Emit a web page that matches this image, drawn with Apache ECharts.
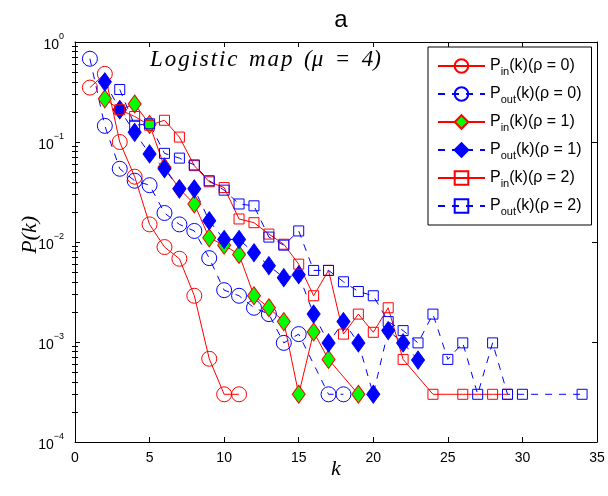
<!DOCTYPE html>
<html>
<head>
<meta charset="utf-8">
<script src="https://cdn.jsdelivr.net/npm/echarts@6.0.0/dist/echarts.min.js"></script>
<style>html,body{margin:0;padding:0;background:#fff}#c{width:608px;height:496px}</style>
</head>
<body>
<div id="c"></div>
<script>
// ---- data ----
const kPin0 = [1, 2, 3, 4, 5, 6, 7, 8, 9, 10, 11];
const pPin0 = [0.35, 0.48, 0.10, 0.045, 0.015, 0.0089, 0.0068, 0.0029, 0.00068, 0.0003, 0.0003];

const kPout0 = [1, 2, 3, 4, 5, 6, 7, 8, 9, 10, 11, 12, 13, 14, 15, 17, 18];
const pPout0 = [0.68, 0.145, 0.054, 0.041, 0.037, 0.0195, 0.015, 0.0129, 0.0069, 0.0033, 0.0029, 0.0022, 0.0019, 0.00098, 0.0012, 0.0003, 0.0003];

const kPin1 = [2, 3, 4, 5, 6, 7, 8, 9, 10, 11, 12, 13, 14, 15, 16, 17, 19];
const pPin1 = [0.27, 0.21, 0.24, 0.15, 0.056, 0.034, 0.024, 0.011, 0.0093, 0.0075, 0.0029, 0.0022, 0.0016, 0.0003, 0.00126, 0.00067, 0.0003];

const kPout1 = [2, 3, 4, 5, 6, 7, 8, 9, 10, 11, 12, 13, 14, 15, 16, 17, 18, 19, 20, 21, 22, 23];
const pPout1 = [0.4, 0.21, 0.125, 0.076, 0.054, 0.034, 0.034, 0.0163, 0.0106, 0.0106, 0.0078, 0.0058, 0.0044, 0.0047, 0.0019, 0.00098, 0.0016, 0.00098, 0.0003, 0.0013, 0.00098, 0.00066];

const kPin2 = [3, 4, 5, 6, 7, 8, 9, 10, 11, 12, 13, 14, 15, 16, 17, 18, 19, 20, 21, 22, 24, 26, 28, 29];
const pPin2 = [0.21, 0.18, 0.147, 0.165, 0.112, 0.058, 0.040, 0.035, 0.017, 0.0156, 0.012, 0.0095, 0.006, 0.0029, 0.0052, 0.0012, 0.0019, 0.00125, 0.0022, 0.00067, 0.0003, 0.0003, 0.0003, 0.0003];

const kPout2 = [3, 4, 5, 6, 7, 8, 9, 10, 11, 12, 13, 14, 15, 16, 17, 18, 19, 20, 21, 22, 23, 24, 25, 26, 27, 28, 29, 30, 34];
const pPout2 = [0.335, 0.147, 0.152, 0.077, 0.069, 0.059, 0.041, 0.033, 0.024, 0.023, 0.0112, 0.0093, 0.0129, 0.0052, 0.0052, 0.004, 0.0032, 0.0029, 0.0016, 0.0013, 0.00098, 0.0019, 0.00067, 0.00098, 0.0003, 0.00098, 0.0003, 0.0003, 0.0003];

const yExponents = [-4, -3, -2, -1, 0];
const legendLabels = {
  Pin0: ['in', '0'], Pout0: ['out', '0'],
  Pin1: ['in', '1'], Pout1: ['out', '1'],
  Pin2: ['in', '2'], Pout2: ['out', '2']
};

// ---- chart ----
const RED = '#ff0000', BLUE = '#0000ff', GREEN = '#00ff00';
const SANS = '"Liberation Sans", Arial, sans-serif';
const SERIF = '"Liberation Serif", "DejaVu Serif", serif';
const zip = (ks, ps) => ks.map((k, i) => [k, ps[i]]);
const HS = '\u200A';

const minorVals = [];
for (let d = -4; d < 0; d++) for (let m = 2; m <= 9; m++) minorVals.push(+(m * Math.pow(10, d)).toPrecision(3));

const chart = echarts.init(document.getElementById('c'), null, {renderer: 'canvas'});

function mkSeries(name, ks, ps, symbol, size, color, fill, dashed) {
  return {
    name, type: 'line', data: zip(ks, ps), xAxisIndex: 0, yAxisIndex: 0,
    symbol, symbolSize: size, showSymbol: true, animation: false,
    lineStyle: {color, width: 1, type: dashed ? [7, 7] : 'solid'},
    itemStyle: {color: fill, borderColor: color, borderWidth: 1},
    emphasis: {disabled: true}
  };
}

const baseY = {type: 'log', logBase: 10, min: 1e-4, max: 1, gridIndex: 0, splitLine: {show: false}};
const spaced = s => s.split('').join(HS);

chart.setOption({
  backgroundColor: '#fff',
  animation: false,
  title: {
    text: 'a', left: 336, top: 3, textAlign: 'center',
    textStyle: {fontFamily: SANS, fontSize: 24, fontWeight: 'normal', color: '#000'}
  },
  grid: {left: 75, right: 11, top: 42, bottom: 54, containLabel: false},
  xAxis: [
    {type: 'value', min: 0, max: 35, interval: 5, position: 'bottom',
     axisLine: {onZero: false, lineStyle: {color: '#000', width: 1}},
     axisTick: {inside: true, length: 5, lineStyle: {color: '#000'}},
     axisLabel: {color: '#000', fontFamily: SANS, fontSize: 14, margin: 9},
     splitLine: {show: false}},
    {type: 'value', min: 0, max: 35, interval: 5, position: 'top',
     axisLine: {onZero: false, lineStyle: {color: '#000', width: 1}},
     axisTick: {inside: true, length: 5, lineStyle: {color: '#000'}},
     axisLabel: {show: false}, splitLine: {show: false}}
  ],
  yAxis: [
    Object.assign({}, baseY, {position: 'left',
     axisLine: {onZero: false, lineStyle: {color: '#000', width: 1}},
     axisTick: {inside: true, length: 5, lineStyle: {color: '#000'}},
     axisLabel: {color: '#000', fontFamily: SANS, margin: 11,
       formatter: v => '{b|10}{s|' + Math.round(Math.log10(v)).toString().replace('-', '\u2212') + '}',
       rich: {b: {fontSize: 14, fontFamily: SANS, color: '#000', lineHeight: 20, verticalAlign: 'bottom'},
              s: {fontSize: 9, fontFamily: SANS, color: '#000', lineHeight: 20, verticalAlign: 'top'}}}}),
    Object.assign({}, baseY, {position: 'left', axisLine: {show: false},
     axisTick: {inside: true, length: 3, customValues: minorVals, lineStyle: {color: '#000'}},
     axisLabel: {show: false}}),
    Object.assign({}, baseY, {position: 'right',
     axisLine: {onZero: false, lineStyle: {color: '#000', width: 1}},
     axisTick: {inside: true, length: 5, lineStyle: {color: '#000'}},
     axisLabel: {show: false}}),
    Object.assign({}, baseY, {position: 'right', axisLine: {show: false},
     axisTick: {inside: true, length: 3, customValues: minorVals, lineStyle: {color: '#000'}},
     axisLabel: {show: false}})
  ],
  legend: {
    orient: 'vertical', left: 428, top: 47,
    backgroundColor: '#fff', borderColor: '#000', borderWidth: 1,
    padding: [11, 10, 8, 9], itemGap: 9, itemWidth: 47, itemHeight: 17,
    selectedMode: false,
    textStyle: {color: '#000', fontFamily: SANS, fontSize: 16,
      rich: {t: {fontSize: 16, fontFamily: SANS, color: '#000', lineHeight: 22, verticalAlign: 'middle'},
             u: {fontSize: 11, fontFamily: SANS, color: '#000', lineHeight: 10, verticalAlign: 'bottom'}}},
    formatter: name => '{t|P}{u|' + legendLabels[name][0] + '}{t|(k)(\u03c1 = ' + legendLabels[name][1] + ')}',
    data: ['Pin0', 'Pout0', 'Pin1', 'Pout1', 'Pin2', 'Pout2']
  },
  graphic: [
    {type: 'text', left: 150, top: 48, silent: true,
     style: {text: spaced('Logistic') + '  ' + spaced('map') + '  (\u03bc\u2002=\u20024)', font: 'italic 23px ' + SERIF, fill: '#000'}},
    {type: 'text', left: 19, top: 216, rotation: Math.PI / 2, silent: true,
     style: {text: 'P(k)', font: 'italic 22px ' + SERIF, fill: '#000'}},
    {type: 'text', left: 331, top: 458, silent: true,
     style: {text: 'k', font: 'italic 22px ' + SERIF, fill: '#000'}}
  ],
  series: [
    mkSeries('Pin0', kPin0, pPin0, 'circle', 15, RED, 'rgba(0,0,0,0)', false),
    mkSeries('Pout0', kPout0, pPout0, 'circle', 15, BLUE, 'rgba(0,0,0,0)', true),
    mkSeries('Pin1', kPin1, pPin1, 'diamond', [13, 18], RED, GREEN, false),
    mkSeries('Pout1', kPout1, pPout1, 'diamond', [13, 18], BLUE, BLUE, true),
    mkSeries('Pin2', kPin2, pPin2, 'rect', 10, RED, 'rgba(0,0,0,0)', false),
    mkSeries('Pout2', kPout2, pPout2, 'rect', 10, BLUE, 'rgba(0,0,0,0)', true)
  ]
});
</script>
</body>
</html>
